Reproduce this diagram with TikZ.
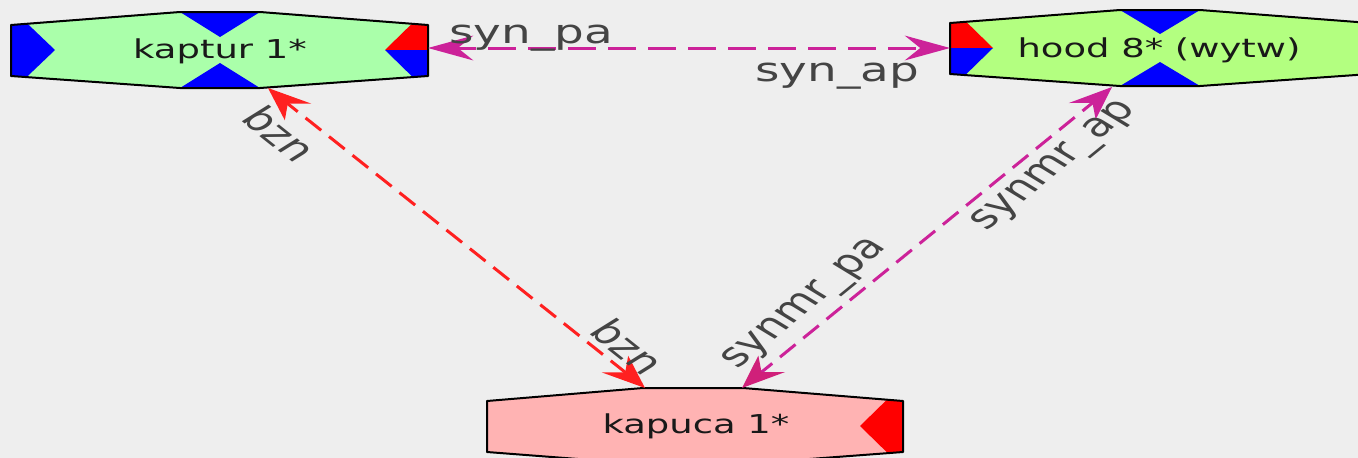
\documentclass[tikz,border=0pt]{standalone}
\usepackage{fontspec}
\setmainfont{DejaVu Sans}
\definecolor{bg}{HTML}{EEEEEE}
\definecolor{kgreen}{HTML}{AAFFAA}
\definecolor{hgreen}{HTML}{B3FF80}
\definecolor{kpink}{HTML}{FFB3B3}
\definecolor{mag}{HTML}{CC2299}
\definecolor{magred}{HTML}{D0207A}
\definecolor{bred}{HTML}{FF2020}
\definecolor{lbl}{HTML}{444444}
\definecolor{nblue}{HTML}{0000FF}
\definecolor{nred}{HTML}{FF0000}
\tikzset{
  nodetext/.style={font=\fontsize{26}{26}\selectfont, text=black!90, inner sep=0pt, anchor=base, xscale=1.42},
  lbltext/.style={font=\fontsize{33}{33}\selectfont, text=lbl, inner sep=0pt, xscale=1.42},
  outline/.style={draw=black, line width=2pt, line join=round},
  synline/.style={draw=mag, line width=3pt, dash pattern=on 28pt off 12pt},
  bznline/.style={draw=bred, line width=3pt, dash pattern=on 20pt off 10pt},
  synmrline/.style={draw=mag, line width=3pt, dash pattern=on 20pt off 10pt},
}
\newcommand{\headat}[3]{%
  \begin{scope}[shift={(#1)}, xscale=1.42, rotate=#2]
    \fill[#3] (0,0) -- (-32,12.5) -- (-21,0) -- (-32,-12.5) -- cycle;
  \end{scope}}
\begin{document}
\begin{tikzpicture}[x=1pt, y=-1pt]
\useasboundingbox (0,0) rectangle (1358,458);
\fill[bg] (0,0) rectangle (1358,458);
\clip (0,0) rectangle (1358,458);

% ---- kaptur 1*
\fill[kgreen] (11,25) -- (180,12) -- (260,12) -- (428,25) -- (428,76) -- (260,88) -- (180,88) -- (11,76) -- cycle;
\begin{scope}
  \clip (11,25) -- (180,12) -- (260,12) -- (428,25) -- (428,76) -- (260,88) -- (180,88) -- (11,76) -- cycle;
  \fill[nblue] (180,12) -- (260,12) -- (220,37) -- cycle;
  \fill[nblue] (180,88) -- (260,88) -- (220,63) -- cycle;
  \fill[nblue] (11,8) -- (55,50) -- (11,92) -- cycle;
  \fill[nred] (428,8) -- (385,50) -- (428,50) -- cycle;
  \fill[nblue] (428,50) -- (385,50) -- (428,92) -- cycle;
\end{scope}
\draw[outline] (11,25) -- (180,12) -- (260,12) -- (428,25) -- (428,76) -- (260,88) -- (180,88) -- (11,76) -- cycle;
\node[nodetext] (kaptur) at (220,58) {kaptur 1*};

% ---- hood 8* (wytw)
\fill[hgreen] (950,23) -- (1120,10) -- (1200,10) -- (1370,23) -- (1370,74) -- (1200,86) -- (1120,86) -- (950,74) -- cycle;
\begin{scope}
  \clip (950,23) -- (1120,10) -- (1200,10) -- (1370,23) -- (1370,74) -- (1200,86) -- (1120,86) -- (950,74) -- cycle;
  \fill[nblue] (1120,10) -- (1200,10) -- (1160,34) -- cycle;
  \fill[nblue] (1120,86) -- (1200,86) -- (1160,62) -- cycle;
  \fill[nred] (950,6) -- (993,48) -- (950,48) -- cycle;
  \fill[nblue] (950,48) -- (993,48) -- (950,90) -- cycle;
\end{scope}
\draw[outline] (950,23) -- (1120,10) -- (1200,10) -- (1370,23) -- (1370,74) -- (1200,86) -- (1120,86) -- (950,74) -- cycle;
\node[nodetext] (hood) at (1159,57) {hood 8* (wytw)};

% ---- kapuca 1*
\fill[kpink] (487,401) -- (643,388) -- (743,388) -- (903,401) -- (903,452) -- (743,464) -- (643,464) -- (487,452) -- cycle;
\begin{scope}
  \clip (487,401) -- (643,388) -- (743,388) -- (903,401) -- (903,452) -- (743,464) -- (643,464) -- (487,452) -- cycle;
  \fill[nred] (903,384) -- (860,426) -- (903,468) -- cycle;
\end{scope}
\draw[outline] (487,401) -- (643,388) -- (743,388) -- (903,401) -- (903,452) -- (743,464) -- (643,464) -- (487,452) -- cycle;
\node[nodetext] (kapuca) at (696,433) {kapuca 1*};

% ---- attachment points
\coordinate (kaptur-e) at (428,48);
\coordinate (hood-w) at (950,48);
\coordinate (kaptur-s) at (268,88);
\coordinate (kapuca-n1) at (645,388);
\coordinate (hood-s) at (1112,87);
\coordinate (kapuca-n2) at (742,388);

% ---- connectors
\draw[synline, shorten <=20pt, shorten >=20pt] (kaptur-e) -- (hood-w);
\headat{kaptur-e}{180}{mag}
\headat{hood-w}{0}{mag}

\draw[bznline, shorten <=18pt, shorten >=18pt] (kaptur-s) -- (kapuca-n1);
\headat{kaptur-s}{131.5}{bred}
\headat{kapuca-n1}{-48.5}{bred}

\draw[synmrline, shorten <=18pt, shorten >=18pt] (hood-s) -- (kapuca-n2);
\headat{hood-s}{49.1}{mag}
\headat{kapuca-n2}{229.1}{magred}

% ---- labels
\node[lbltext, anchor=base] (l-synpa) at (531,43) {syn\_pa};
\node[lbltext, anchor=base] (l-synap) at (837,81) {syn\_ap};
\node[lbltext, rotate=-48.5] (l-bzn1) at (280,134) {bzn};
\node[lbltext, rotate=-48.5] (l-bzn2) at (628,347) {bzn};
\node[lbltext, rotate=49.1] (l-synmrap) at (1056,167) {synmr\_ap};
\node[lbltext, rotate=49.1] (l-synmrpa) at (807,305) {synmr\_pa};
\end{tikzpicture}
\end{document}
